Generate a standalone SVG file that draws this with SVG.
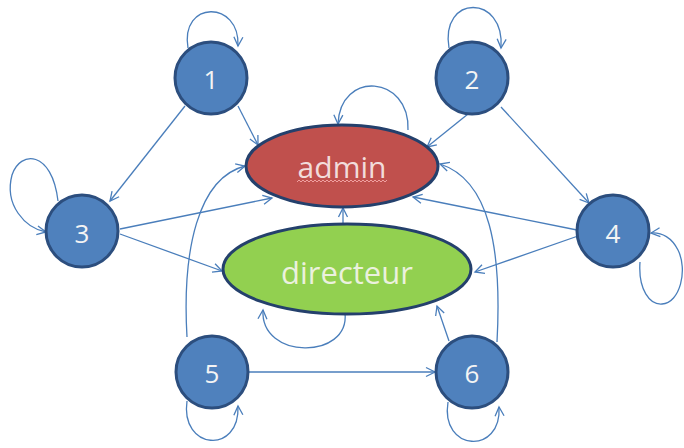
<svg xmlns="http://www.w3.org/2000/svg" width="684" height="448" viewBox="0 0 684 448">
<defs>
<marker id="arr" markerUnits="userSpaceOnUse" markerWidth="14" markerHeight="14" viewBox="-11 -7 14 14" refX="0" refY="0" orient="auto">
<path d="M -9,-4.5 L 0,0 L -9,4.5" fill="none" stroke="#4A7EBB" stroke-width="1.3"/>
</marker>
<style>
.e{fill:none;stroke:#4A7EBB;stroke-width:1.3;marker-end:url(#arr)}
.n{fill:#4F81BD;stroke:#2C4E7E;stroke-width:3}
.nt{font-family:"Open Sans","Liberation Sans",sans-serif;font-size:26px;fill:#F4F4F4;text-anchor:middle}
.bt{font-family:"Open Sans","Liberation Sans",sans-serif;text-anchor:middle}
</style>
</defs>
<rect width="684" height="448" fill="#FFFFFF"/>
<g id="connectors">
<path class="e" d="M 188,48 C 180,0 240,0 238,46"/>
<path class="e" d="M 449,48 C 440,-6 505,-6 501,48"/>
<path class="e" d="M 408,130 C 410,75 340,70 338,124"/>
<path class="e" d="M 58,201 C 52,150 20,150 12,175 C 4,205 25,228 46,232"/>
<path class="e" d="M 640,262 C 638,290 650,305 662,304 C 680,303 688,270 678,250 C 672,238 662,232 651,233"/>
<path class="e" d="M 187,401 C 180,450 240,455 238,406"/>
<path class="e" d="M 448,402 C 440,452 502,455 499,407"/>
<path class="e" d="M 345,313 C 350,360 260,360 263,310"/>
<path class="e" d="M 185,106 L 110,201"/>
<path class="e" d="M 238,106 L 258,145"/>
<path class="e" d="M 468,114 L 427,147"/>
<path class="e" d="M 501,107 L 589,203"/>
<path class="e" d="M 120,229 L 272,198"/>
<path class="e" d="M 120,234 L 222,271"/>
<path class="e" d="M 577,230 L 413,197"/>
<path class="e" d="M 578,236 L 475,272"/>
<path class="e" d="M 249,372 L 435,372"/>
<path class="e" d="M 449,341 L 437,306"/>
<path class="e" d="M 343,226 L 343,208"/>
<path class="e" d="M 187,337 C 182,250 198,178 245,166"/>
<path class="e" d="M 497,342 C 502,250 490,180 440,164"/>
</g>
<g id="admin">
<ellipse cx="342" cy="166" rx="96" ry="41" fill="#C0504D" stroke="#24406C" stroke-width="3"/>
<text class="bt" x="342" y="178" font-size="30" fill="#F2DCDB">admin</text>
<polyline points="297,182 299,180 301,182 303,180 305,182 307,180 309,182 311,180 313,182 315,180 317,182 319,180 321,182 323,180 325,182 327,180 329,182 331,180 333,182 335,180 337,182 339,180 341,182 343,180 345,182 347,180 349,182 351,180 353,182 355,180 357,182 359,180 361,182 363,180 365,182 367,180 369,182 371,180 373,182 375,180 377,182 379,180 381,182 383,180 385,182 387,180" fill="none" stroke="#F0A0A0" stroke-width="1"/>
</g>
<g id="directeur">
<ellipse cx="347" cy="269" rx="124" ry="45" fill="#92D050" stroke="#24406C" stroke-width="3"/>
<text class="bt" x="347" y="284" font-size="31" fill="#EBF1DE">directeur</text>
</g>
<g id="n1"><circle class="n" cx="211" cy="78" r="36"/><text class="nt" x="211" y="89">1</text></g>
<g id="n2"><circle class="n" cx="472" cy="78" r="36"/><text class="nt" x="472" y="89">2</text></g>
<g id="n3"><circle class="n" cx="82" cy="231" r="36"/><text class="nt" x="82" y="243">3</text></g>
<g id="n4"><circle class="n" cx="613" cy="231" r="36"/><text class="nt" x="613" y="243">4</text></g>
<g id="n5"><circle class="n" cx="212" cy="372" r="36"/><text class="nt" x="212" y="383">5</text></g>
<g id="n6"><circle class="n" cx="472" cy="372" r="36"/><text class="nt" x="472" y="383">6</text></g>
</svg>
